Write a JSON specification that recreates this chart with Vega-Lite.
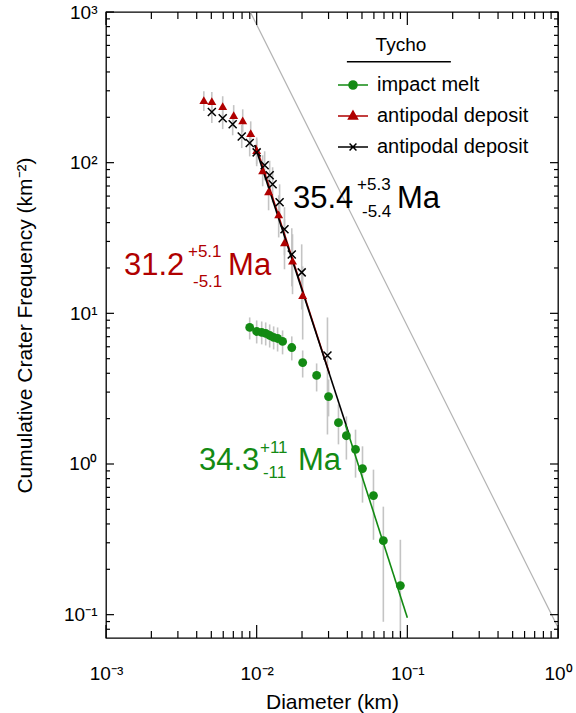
{
  "$schema": "https://vega.github.io/schema/vega-lite/v6.json",
  "width": 452,
  "height": 626,
  "autosize": {"type": "none"},
  "padding": {"left": 106, "top": 12, "right": 18, "bottom": 75},
  "background": "white",
  "config": {
    "font": "Liberation Sans",
    "view": {"stroke": "black", "strokeWidth": 1.3},
    "axis": {"grid": false, "domain": false, "ticks": false, "labelFont": "Liberation Sans", "titleFont": "Liberation Sans", "labelColor": "black", "titleColor": "black", "titleFontWeight": "normal", "labelFlush": false, "labelOverlap": false}
  },
  "datasets": {
    "ref": [{"D": 0.00907, "N": 1000}, {"D": 1, "N": 0.0823}],
    "xticks": [
      {"v": 0.001, "k": "major"}, {"v": 0.01, "k": "major"}, {"v": 0.1, "k": "major"}, {"v": 1, "k": "major"},
      {"v": 0.002, "k": "minor"}, {"v": 0.003, "k": "minor"}, {"v": 0.004, "k": "minor"}, {"v": 0.005, "k": "minor"}, {"v": 0.006, "k": "minor"}, {"v": 0.007, "k": "minor"}, {"v": 0.008, "k": "minor"}, {"v": 0.009, "k": "minor"},
      {"v": 0.02, "k": "minor"}, {"v": 0.03, "k": "minor"}, {"v": 0.04, "k": "minor"}, {"v": 0.05, "k": "minor"}, {"v": 0.06, "k": "minor"}, {"v": 0.07, "k": "minor"}, {"v": 0.08, "k": "minor"}, {"v": 0.09, "k": "minor"},
      {"v": 0.2, "k": "minor"}, {"v": 0.3, "k": "minor"}, {"v": 0.4, "k": "minor"}, {"v": 0.5, "k": "minor"}, {"v": 0.6, "k": "minor"}, {"v": 0.7, "k": "minor"}, {"v": 0.8, "k": "minor"}, {"v": 0.9, "k": "minor"}
    ],
    "yticks": [
      {"v": 0.1, "k": "major"}, {"v": 1, "k": "major"}, {"v": 10, "k": "major"}, {"v": 100, "k": "major"}, {"v": 1000, "k": "major"},
      {"v": 0.08, "k": "minor"}, {"v": 0.09, "k": "minor"},
      {"v": 0.2, "k": "minor"}, {"v": 0.3, "k": "minor"}, {"v": 0.4, "k": "minor"}, {"v": 0.5, "k": "minor"}, {"v": 0.6, "k": "minor"}, {"v": 0.7, "k": "minor"}, {"v": 0.8, "k": "minor"}, {"v": 0.9, "k": "minor"},
      {"v": 2, "k": "minor"}, {"v": 3, "k": "minor"}, {"v": 4, "k": "minor"}, {"v": 5, "k": "minor"}, {"v": 6, "k": "minor"}, {"v": 7, "k": "minor"}, {"v": 8, "k": "minor"}, {"v": 9, "k": "minor"},
      {"v": 20, "k": "minor"}, {"v": 30, "k": "minor"}, {"v": 40, "k": "minor"}, {"v": 50, "k": "minor"}, {"v": 60, "k": "minor"}, {"v": 70, "k": "minor"}, {"v": 80, "k": "minor"}, {"v": 90, "k": "minor"},
      {"v": 200, "k": "minor"}, {"v": 300, "k": "minor"}, {"v": 400, "k": "minor"}, {"v": 500, "k": "minor"}, {"v": 600, "k": "minor"}, {"v": 700, "k": "minor"}, {"v": 800, "k": "minor"}, {"v": 900, "k": "minor"}
    ],
    "fits": [
      {"series": "antipodal deposit 1", "D": 0.00985, "N": 131},
      {"series": "antipodal deposit 1", "D": 0.0304, "N": 3.99},
      {"series": "antipodal deposit 2", "D": 0.0097, "N": 131},
      {"series": "antipodal deposit 2", "D": 0.0407, "N": 1.62},
      {"series": "impact melt", "D": 0.0388, "N": 1.83},
      {"series": "impact melt", "D": 0.1, "N": 0.0954}
    ],
    "pts": [
      {"series": "antipodal deposit 1", "D": 0.00446, "N": 260, "lo": 220, "hi": 298},
      {"series": "antipodal deposit 1", "D": 0.00504, "N": 256, "lo": 217, "hi": 294},
      {"series": "antipodal deposit 1", "D": 0.00595, "N": 237, "lo": 200, "hi": 276},
      {"series": "antipodal deposit 1", "D": 0.00704, "N": 207, "lo": 172, "hi": 241},
      {"series": "antipodal deposit 1", "D": 0.00808, "N": 191, "lo": 159, "hi": 226},
      {"series": "antipodal deposit 1", "D": 0.00913, "N": 157, "lo": 129, "hi": 188},
      {"series": "antipodal deposit 1", "D": 0.0100, "N": 121, "lo": 98, "hi": 147},
      {"series": "antipodal deposit 1", "D": 0.01096, "N": 89, "lo": 69.7, "hi": 112},
      {"series": "antipodal deposit 1", "D": 0.0120, "N": 64.4, "lo": 48.3, "hi": 83.8},
      {"series": "antipodal deposit 1", "D": 0.0140, "N": 45.4, "lo": 31.9, "hi": 60.7},
      {"series": "antipodal deposit 1", "D": 0.0153, "N": 29.6, "lo": 19.6, "hi": 42.1},
      {"series": "antipodal deposit 1", "D": 0.0173, "N": 22.4, "lo": 13.4, "hi": 33.5},
      {"series": "antipodal deposit 1", "D": 0.0202, "N": 13.2, "lo": 6.7, "hi": 20.5},
      {"series": "antipodal deposit 2", "D": 0.00504, "N": 217, "lo": 183, "hi": 248},
      {"series": "antipodal deposit 2", "D": 0.00595, "N": 197, "lo": 167, "hi": 230},
      {"series": "antipodal deposit 2", "D": 0.00693, "N": 180, "lo": 152, "hi": 210},
      {"series": "antipodal deposit 2", "D": 0.00796, "N": 149, "lo": 125, "hi": 178},
      {"series": "antipodal deposit 2", "D": 0.00899, "N": 135, "lo": 110, "hi": 162},
      {"series": "antipodal deposit 2", "D": 0.0100, "N": 117, "lo": 94.7, "hi": 143},
      {"series": "antipodal deposit 2", "D": 0.0113, "N": 96.1, "lo": 76.4, "hi": 119},
      {"series": "antipodal deposit 2", "D": 0.0122, "N": 82.5, "lo": 64.6, "hi": 103},
      {"series": "antipodal deposit 2", "D": 0.01276, "N": 71.8, "lo": 54.6, "hi": 93.2},
      {"series": "antipodal deposit 2", "D": 0.0142, "N": 54.6, "lo": 40.2, "hi": 71.8},
      {"series": "antipodal deposit 2", "D": 0.0153, "N": 36.1, "lo": 24.3, "hi": 50.6},
      {"series": "antipodal deposit 2", "D": 0.0171, "N": 24.6, "lo": 15.1, "hi": 36.7},
      {"series": "antipodal deposit 2", "D": 0.0199, "N": 18.7, "lo": 10.6, "hi": 28.7},
      {"series": "antipodal deposit 2", "D": 0.0295, "N": 5.25, "lo": 1.57, "hi": 9.39},
      {"series": "impact melt", "D": 0.00899, "N": 8.06, "lo": 6.71, "hi": 9.39},
      {"series": "impact melt", "D": 0.0100, "N": 7.58, "lo": 6.31, "hi": 8.97},
      {"series": "impact melt", "D": 0.0108, "N": 7.47, "lo": 6.22, "hi": 8.83},
      {"series": "impact melt", "D": 0.01148, "N": 7.36, "lo": 6.12, "hi": 8.70},
      {"series": "impact melt", "D": 0.0122, "N": 7.13, "lo": 5.93, "hi": 8.44},
      {"series": "impact melt", "D": 0.01296, "N": 6.92, "lo": 5.76, "hi": 8.19},
      {"series": "impact melt", "D": 0.01377, "N": 6.81, "lo": 5.58, "hi": 8.06},
      {"series": "impact melt", "D": 0.01486, "N": 6.51, "lo": 5.34, "hi": 7.70},
      {"series": "impact melt", "D": 0.0171, "N": 5.93, "lo": 4.87, "hi": 7.03},
      {"series": "impact melt", "D": 0.0202, "N": 4.71, "lo": 3.75, "hi": 5.67},
      {"series": "impact melt", "D": 0.0250, "N": 3.87, "lo": 3.03, "hi": 4.65},
      {"series": "impact melt", "D": 0.0300, "N": 2.80, "lo": 2.07, "hi": 3.64},
      {"series": "impact melt", "D": 0.0349, "N": 1.88, "lo": 1.35, "hi": 2.48},
      {"series": "impact melt", "D": 0.0394, "N": 1.54, "lo": 1.07, "hi": 2.07},
      {"series": "impact melt", "D": 0.0453, "N": 1.25, "lo": 0.812, "hi": 1.69},
      {"series": "impact melt", "D": 0.0504, "N": 0.932, "lo": 0.554, "hi": 1.31},
      {"series": "impact melt", "D": 0.0596, "N": 0.617, "lo": 0.314, "hi": 0.917},
      {"series": "impact melt", "D": 0.0693, "N": 0.310, "lo": 0.0897, "hi": 0.521},
      {"series": "impact melt", "D": 0.0899, "N": 0.156, "lo": 0.03, "hi": 0.314}
    ],
    "ages": [
      {"series": "antipodal deposit 2", "role": "big", "D": 0.01742, "N": 50.2, "text": "35.4"},
      {"series": "antipodal deposit 2", "role": "small", "D": 0.04638, "N": 66.1, "text": "+5.3"},
      {"series": "antipodal deposit 2", "role": "small", "D": 0.0500, "N": 43.8, "text": "-5.4"},
      {"series": "antipodal deposit 2", "role": "big", "D": 0.0853, "N": 50.2, "text": "Ma"},
      {"series": "antipodal deposit 1", "role": "big", "D": 0.001316, "N": 18.04, "text": "31.2"},
      {"series": "antipodal deposit 1", "role": "small", "D": 0.00350, "N": 23.7, "text": "+5.1"},
      {"series": "antipodal deposit 1", "role": "small", "D": 0.00378, "N": 15.0, "text": "-5.1"},
      {"series": "antipodal deposit 1", "role": "big", "D": 0.00646, "N": 18.04, "text": "Ma"},
      {"series": "impact melt", "role": "big", "D": 0.00414, "N": 0.917, "text": "34.3"},
      {"series": "impact melt", "role": "small", "D": 0.01052, "N": 1.189, "text": "+11"},
      {"series": "impact melt", "role": "small", "D": 0.01101, "N": 0.811, "text": "-11"},
      {"series": "impact melt", "role": "big", "D": 0.01879, "N": 0.917, "text": "Ma"}
    ],
    "legendTitle": [{"D": 0.0907, "N": 547, "D2": 0.0397, "D3": 0.1945, "NL": 467, "text": "Tycho"}]
  },
  "layer": [
    {
      "data": {"name": "ref"},
      "mark": {"type": "line", "color": "#b3b3b3", "strokeWidth": 1.2},
      "encoding": {
        "x": {"field": "D", "type": "quantitative", "scale": {"type": "log", "domain": [0.001, 1], "nice": false},
          "axis": {"orient": "bottom", "values": [0.001, 0.01, 0.1, 1], "labelPadding": 41, "labelFontSize": 19, "labelBaseline": "alphabetic",
            "labelExpr": "datum.value < 0.005 ? '10⁻³' : datum.value < 0.05 ? '10⁻²' : datum.value < 0.5 ? '10⁻¹' : '10⁰'",
            "title": "Diameter (km)", "titleFontSize": 21, "titlePadding": 8}},
        "y": {"field": "N", "type": "quantitative", "scale": {"type": "log", "domain": [0.07, 1000], "nice": false},
          "axis": {"orient": "left", "values": [0.1, 1, 10, 100, 1000], "labelPadding": 9, "labelFontSize": 19,
            "labelExpr": "datum.value < 0.5 ? '10⁻¹' : datum.value < 5 ? '10⁰' : datum.value < 50 ? '10¹' : datum.value < 500 ? '10²' : '10³'",
            "title": "Cumulative Crater Frequency (km⁻²)", "titleFontSize": 21, "titlePadding": 28}}
      }
    },
    {
      "data": {"name": "pts"},
      "mark": {"type": "rule", "color": "#c4c4c4", "strokeWidth": 1.6, "clip": true},
      "encoding": {
        "x": {"field": "D", "type": "quantitative", "scale": {"type": "log", "domain": [0.001, 1], "nice": false}, "axis": null},
        "y": {"field": "lo", "type": "quantitative", "scale": {"type": "log", "domain": [0.07, 1000], "nice": false}, "axis": null},
        "y2": {"field": "hi"}
      }
    },
    {
      "data": {"name": "fits"},
      "mark": {"type": "line", "strokeWidth": 1.6},
      "encoding": {
        "x": {"field": "D", "type": "quantitative", "scale": {"type": "log", "domain": [0.001, 1], "nice": false}, "axis": null},
        "y": {"field": "N", "type": "quantitative", "scale": {"type": "log", "domain": [0.07, 1000], "nice": false}, "axis": null},
        "color": {"field": "series", "type": "nominal",
          "scale": {"domain": ["impact melt", "antipodal deposit 1", "antipodal deposit 2"], "range": ["#138a13", "#b00000", "#000000"]},
          "legend": {"orient": "none", "legendX": 231, "legendY": 57, "title": null, "padding": 0, "labelFontSize": 20, "labelFont": "Liberation Sans", "labelColor": "black", "symbolSize": 900, "labelOffset": 8, "rowPadding": 5,
            "labelExpr": "datum.label == 'impact melt' ? ' impact melt' : 'antipodal deposit'",
            "encode": {"symbols": {"update": {
              "shape": {"signal": "datum.value == 'impact melt' ? 'M-1,0L1,0M0.27,0A0.27,0.27,0,1,1,-0.27,0A0.27,0.27,0,1,1,0.27,0Z' : datum.value == 'antipodal deposit 1' ? 'M-1,0L1,0M0,-0.33L0.3,0.2L-0.3,0.2Z' : 'M-1,0L1,0M-0.23,-0.23L0.23,0.23M-0.23,0.23L0.23,-0.23'"},
              "fill": {"signal": "scale('color', datum.value)"},
              "stroke": {"signal": "scale('color', datum.value)"},
              "strokeWidth": {"value": 1.5},
              "opacity": {"value": 1}
            }}}}
        }
      }
    },
    {
      "data": {"name": "pts"},
      "transform": [{"filter": "datum.series == 'impact melt'"}],
      "mark": {"type": "point", "shape": "circle", "filled": true, "opacity": 1, "size": 78},
      "encoding": {
        "x": {"field": "D", "type": "quantitative", "scale": {"type": "log", "domain": [0.001, 1], "nice": false}, "axis": null},
        "y": {"field": "N", "type": "quantitative", "scale": {"type": "log", "domain": [0.07, 1000], "nice": false}, "axis": null},
        "color": {"field": "series", "type": "nominal"}
      }
    },
    {
      "data": {"name": "pts"},
      "transform": [{"filter": "datum.series == 'antipodal deposit 1'"}],
      "mark": {"type": "point", "shape": "triangle-up", "filled": true, "opacity": 1, "size": 80},
      "encoding": {
        "x": {"field": "D", "type": "quantitative", "scale": {"type": "log", "domain": [0.001, 1], "nice": false}, "axis": null},
        "y": {"field": "N", "type": "quantitative", "scale": {"type": "log", "domain": [0.07, 1000], "nice": false}, "axis": null},
        "color": {"field": "series", "type": "nominal"}
      }
    },
    {
      "data": {"name": "pts"},
      "transform": [{"filter": "datum.series == 'antipodal deposit 2'"}],
      "mark": {"type": "point", "shape": "M-1,-1L1,1M-1,1L1,-1", "filled": false, "opacity": 1, "size": 64, "strokeWidth": 1.5},
      "encoding": {
        "x": {"field": "D", "type": "quantitative", "scale": {"type": "log", "domain": [0.001, 1], "nice": false}, "axis": null},
        "y": {"field": "N", "type": "quantitative", "scale": {"type": "log", "domain": [0.07, 1000], "nice": false}, "axis": null},
        "color": {"field": "series", "type": "nominal"}
      }
    },
    {
      "data": {"name": "ages"},
      "transform": [{"filter": "datum.role == 'big'"}],
      "mark": {"type": "text", "align": "left", "baseline": "alphabetic", "fontSize": 31, "font": "Liberation Sans"},
      "encoding": {
        "x": {"field": "D", "type": "quantitative", "scale": {"type": "log", "domain": [0.001, 1], "nice": false}, "axis": null},
        "y": {"field": "N", "type": "quantitative", "scale": {"type": "log", "domain": [0.07, 1000], "nice": false}, "axis": null},
        "text": {"field": "text"},
        "color": {"field": "series", "type": "nominal"}
      }
    },
    {
      "data": {"name": "ages"},
      "transform": [{"filter": "datum.role == 'small'"}],
      "mark": {"type": "text", "align": "left", "baseline": "alphabetic", "fontSize": 17, "font": "Liberation Sans"},
      "encoding": {
        "x": {"field": "D", "type": "quantitative", "scale": {"type": "log", "domain": [0.001, 1], "nice": false}, "axis": null},
        "y": {"field": "N", "type": "quantitative", "scale": {"type": "log", "domain": [0.07, 1000], "nice": false}, "axis": null},
        "text": {"field": "text"},
        "color": {"field": "series", "type": "nominal"}
      }
    },
    {
      "data": {"name": "legendTitle"},
      "mark": {"type": "text", "align": "center", "baseline": "alphabetic", "fontSize": 19, "font": "Liberation Sans", "color": "black"},
      "encoding": {
        "x": {"field": "D", "type": "quantitative", "scale": {"type": "log", "domain": [0.001, 1], "nice": false}, "axis": null},
        "y": {"field": "N", "type": "quantitative", "scale": {"type": "log", "domain": [0.07, 1000], "nice": false}, "axis": null},
        "text": {"field": "text"}
      }
    },
    {
      "data": {"name": "legendTitle"},
      "mark": {"type": "rule", "color": "black", "strokeWidth": 1.5},
      "encoding": {
        "x": {"field": "D2", "type": "quantitative", "scale": {"type": "log", "domain": [0.001, 1], "nice": false}, "axis": null},
        "x2": {"field": "D3"},
        "y": {"field": "NL", "type": "quantitative", "scale": {"type": "log", "domain": [0.07, 1000], "nice": false}, "axis": null}
      }
    },
    {
      "data": {"name": "xticks"},
      "transform": [{"filter": "datum.k == 'major'"}],
      "mark": {"type": "tick", "orient": "vertical", "size": 13, "thickness": 1.2, "color": "black", "opacity": 1, "yOffset": -6.5},
      "encoding": {
        "x": {"field": "v", "type": "quantitative", "scale": {"type": "log", "domain": [0.001, 1], "nice": false}, "axis": null},
        "y": {"datum": 0.07, "type": "quantitative", "scale": {"type": "log", "domain": [0.07, 1000], "nice": false}, "axis": null}
      }
    },
    {
      "data": {"name": "xticks"},
      "transform": [{"filter": "datum.k == 'minor'"}],
      "mark": {"type": "tick", "orient": "vertical", "size": 7, "thickness": 1.2, "color": "black", "opacity": 1, "yOffset": -3.5},
      "encoding": {
        "x": {"field": "v", "type": "quantitative", "scale": {"type": "log", "domain": [0.001, 1], "nice": false}, "axis": null},
        "y": {"datum": 0.07, "type": "quantitative", "scale": {"type": "log", "domain": [0.07, 1000], "nice": false}, "axis": null}
      }
    },
    {
      "data": {"name": "xticks"},
      "transform": [{"filter": "datum.k == 'major'"}],
      "mark": {"type": "tick", "orient": "vertical", "size": 13, "thickness": 1.2, "color": "black", "opacity": 1, "yOffset": 6.5},
      "encoding": {
        "x": {"field": "v", "type": "quantitative", "scale": {"type": "log", "domain": [0.001, 1], "nice": false}, "axis": null},
        "y": {"datum": 1000, "type": "quantitative", "scale": {"type": "log", "domain": [0.07, 1000], "nice": false}, "axis": null}
      }
    },
    {
      "data": {"name": "xticks"},
      "transform": [{"filter": "datum.k == 'minor'"}],
      "mark": {"type": "tick", "orient": "vertical", "size": 7, "thickness": 1.2, "color": "black", "opacity": 1, "yOffset": 3.5},
      "encoding": {
        "x": {"field": "v", "type": "quantitative", "scale": {"type": "log", "domain": [0.001, 1], "nice": false}, "axis": null},
        "y": {"datum": 1000, "type": "quantitative", "scale": {"type": "log", "domain": [0.07, 1000], "nice": false}, "axis": null}
      }
    },
    {
      "data": {"name": "yticks"},
      "transform": [{"filter": "datum.k == 'major'"}],
      "mark": {"type": "tick", "orient": "horizontal", "size": 8, "thickness": 1.2, "color": "black", "opacity": 1, "xOffset": 4},
      "encoding": {
        "x": {"datum": 0.001, "type": "quantitative", "scale": {"type": "log", "domain": [0.001, 1], "nice": false}, "axis": null},
        "y": {"field": "v", "type": "quantitative", "scale": {"type": "log", "domain": [0.07, 1000], "nice": false}, "axis": null}
      }
    },
    {
      "data": {"name": "yticks"},
      "transform": [{"filter": "datum.k == 'minor'"}],
      "mark": {"type": "tick", "orient": "horizontal", "size": 4, "thickness": 1.2, "color": "black", "opacity": 1, "xOffset": 2},
      "encoding": {
        "x": {"datum": 0.001, "type": "quantitative", "scale": {"type": "log", "domain": [0.001, 1], "nice": false}, "axis": null},
        "y": {"field": "v", "type": "quantitative", "scale": {"type": "log", "domain": [0.07, 1000], "nice": false}, "axis": null}
      }
    },
    {
      "data": {"name": "yticks"},
      "transform": [{"filter": "datum.k == 'major'"}],
      "mark": {"type": "tick", "orient": "horizontal", "size": 8, "thickness": 1.2, "color": "black", "opacity": 1, "xOffset": -4},
      "encoding": {
        "x": {"datum": 1, "type": "quantitative", "scale": {"type": "log", "domain": [0.001, 1], "nice": false}, "axis": null},
        "y": {"field": "v", "type": "quantitative", "scale": {"type": "log", "domain": [0.07, 1000], "nice": false}, "axis": null}
      }
    },
    {
      "data": {"name": "yticks"},
      "transform": [{"filter": "datum.k == 'minor'"}],
      "mark": {"type": "tick", "orient": "horizontal", "size": 4, "thickness": 1.2, "color": "black", "opacity": 1, "xOffset": -2},
      "encoding": {
        "x": {"datum": 1, "type": "quantitative", "scale": {"type": "log", "domain": [0.001, 1], "nice": false}, "axis": null},
        "y": {"field": "v", "type": "quantitative", "scale": {"type": "log", "domain": [0.07, 1000], "nice": false}, "axis": null}
      }
    }
  ],
  "resolve": {"axis": {"x": "independent", "y": "independent"}}
}
